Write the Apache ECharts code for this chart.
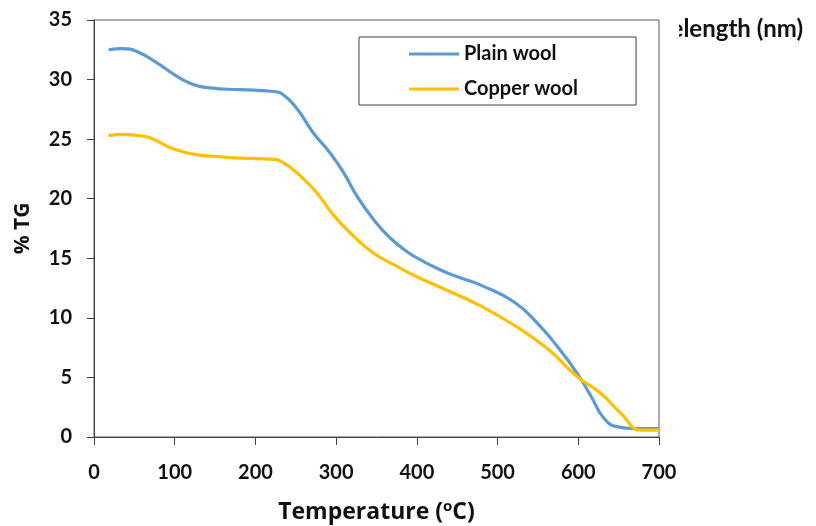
<!DOCTYPE html>
<html><head><meta charset="utf-8">
<script src="https://cdn.jsdelivr.net/npm/echarts@6/dist/echarts.min.js"></script>
<style>html,body{margin:0;padding:0;background:#fff}#c{width:816px;height:526px}</style>
</head><body><div id="c"></div>
<script>
const plainTemp = [18, 36, 55, 78, 100, 119, 144, 181, 222, 235, 252, 272, 293, 310, 326, 347, 367, 388, 409, 430, 450, 479, 520, 550, 574, 599, 616, 632, 649, 669, 700];
const plainTG   = [32.5, 32.6, 32.3, 31.4, 30.4, 29.7, 29.3, 29.15, 29.0, 28.7, 27.5, 25.5, 23.8, 22.1, 20.2, 18.2, 16.7, 15.55, 14.7, 14.0, 13.45, 12.75, 11.35, 9.5, 7.6, 5.3, 3.4, 1.55, 0.85, 0.71, 0.71];
const copperTemp = [18, 36, 55, 70, 98, 127, 160, 181, 222, 235, 256, 276, 297, 318, 347, 376, 400, 438, 479, 520, 562, 599, 628, 653, 678, 700];
const copperTG   = [25.3, 25.4, 25.3, 25.1, 24.2, 23.7, 23.5, 23.4, 23.3, 23.0, 21.9, 20.5, 18.6, 17.1, 15.4, 14.3, 13.45, 12.3, 11.0, 9.4, 7.4, 5.05, 3.65, 1.97, 0.57, 0.57];
const seriesNames = ['Plain wool', 'Copper wool'];
const xTicks = {min: 0, max: 700, interval: 100};
const yTicks = {min: 0, max: 35, interval: 5};

const FONT = 'Lato';
const TFONT = 'Open Sans';
const chart = echarts.init(document.getElementById('c'));
const pair = (xs, ys) => xs.map((x, i) => [x, ys[i]]);
chart.setOption({
  animation: false,
  backgroundColor: '#fff',
  grid: {left: 94, top: 20, right: 157, bottom: 89, show: true, borderColor: '#595959', borderWidth: 1,
         containLabel: false, outerBoundsMode: 'none'},
  xAxis: {
    type: 'value', min: xTicks.min, max: xTicks.max, interval: xTicks.interval,
    name: '{a|Temperature (}{s|o}{a|C)}', nameLocation: 'middle', nameGap: 62,
    nameTextStyle: {rich: {
      a: {fontFamily: TFONT, fontWeight: 'bold', fontSize: 23, color: '#111'},
      s: {fontFamily: TFONT, fontWeight: 'bold', fontSize: 15, color: '#111', padding: [0, 0, 12, 0]}
    }},
    axisLine: {lineStyle: {color: '#404040', width: 1}},
    axisTick: {show: true, length: 8, lineStyle: {color: '#404040'}},
    axisLabel: {margin: 26, fontFamily: FONT, fontWeight: 'bold', fontSize: 20, color: '#111'},
    splitLine: {show: false}
  },
  yAxis: {
    type: 'value', min: yTicks.min, max: yTicks.max, interval: yTicks.interval,
    name: '% TG', nameLocation: 'middle', nameGap: 60,
    nameTextStyle: {fontFamily: TFONT, fontWeight: 'bold', fontSize: 21, color: '#111'},
    axisLine: {show: true, lineStyle: {color: '#404040', width: 1}},
    axisTick: {show: true, length: 7, lineStyle: {color: '#404040'}},
    axisLabel: {margin: 22, fontFamily: FONT, fontWeight: 'bold', fontSize: 20, color: '#111'},
    splitLine: {show: false}
  },
  legend: {
    orient: 'vertical', left: 359, top: 37,
    padding: [7, 58, 6, 50], itemGap: 15, itemWidth: 50, itemHeight: 3, icon: 'rect',
    borderColor: '#404040', borderWidth: 1,
    textStyle: {fontFamily: FONT, fontWeight: 'bold', fontSize: 20, lineHeight: 20, color: '#111'},
    data: seriesNames
  },
  graphic: [
    {type: 'text', right: 13, top: 17, z: 10, style: {text: 'elength (nm)', fontFamily: FONT, fontWeight: 'bold', fontSize: 24, fill: '#111'}},
    {type: 'rect', left: 661, top: 8, z: 11, shape: {width: 18, height: 40}, style: {fill: '#fff'}}
  ],
  series: [
    {name: seriesNames[0], type: 'line', data: pair(plainTemp, plainTG), smooth: 0.5, showSymbol: false, symbol: 'none',
     lineStyle: {color: '#5B9BD5', width: 3.2}, itemStyle: {color: '#5B9BD5'}},
    {name: seriesNames[1], type: 'line', data: pair(copperTemp, copperTG), smooth: 0.5, showSymbol: false, symbol: 'none',
     lineStyle: {color: '#FFC000', width: 3.2}, itemStyle: {color: '#FFC000'}}
  ]
});
</script></body></html>
